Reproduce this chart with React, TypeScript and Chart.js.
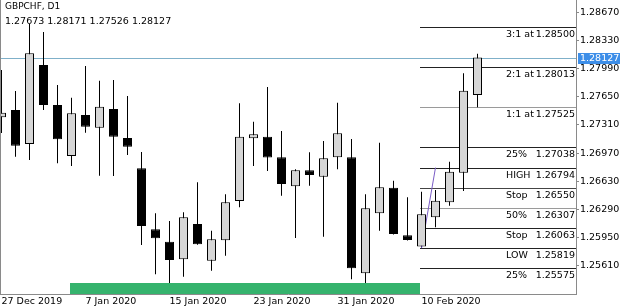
import React, { useEffect, useRef } from 'react';
import { Chart, registerables } from 'chart.js';

Chart.register(...registerables);

const symbolTitle = 'GBPCHF, D1';

const dates = [
  '27 Dec 2019', '30 Dec 2019', '31 Dec 2019', '2 Jan 2020', '3 Jan 2020', '6 Jan 2020', '7 Jan 2020',
  '8 Jan 2020', '9 Jan 2020', '10 Jan 2020', '13 Jan 2020', '14 Jan 2020', '15 Jan 2020', '16 Jan 2020',
  '17 Jan 2020', '20 Jan 2020', '21 Jan 2020', '22 Jan 2020', '23 Jan 2020', '24 Jan 2020', '27 Jan 2020',
  '28 Jan 2020', '29 Jan 2020', '30 Jan 2020', '31 Jan 2020', '3 Feb 2020', '4 Feb 2020', '5 Feb 2020',
  '6 Feb 2020', '7 Feb 2020', '10 Feb 2020', '11 Feb 2020', '12 Feb 2020', '13 Feb 2020', '14 Feb 2020',
];

const opens = [
  1.27403, 1.27491, 1.2708, 1.28036, 1.27552, 1.26934, 1.27431, 1.27277, 1.27503, 1.27152,
  1.26786, 1.26047, 1.25897, 1.25684, 1.26111, 1.25667, 1.25914, 1.2639, 1.27149, 1.27168,
  1.26919, 1.26568, 1.26761, 1.26684, 1.26919, 1.26919, 1.25514, 1.26241, 1.26551, 1.25974,
  1.25839, 1.26192, 1.26374, 1.26732, 1.27673,
];
const highs = [
  1.27976, 1.27721, 1.28532, 1.28436, 1.27794, 1.2764, 1.28024, 1.27846, 1.27855, 1.27661,
  1.26983, 1.26241, 1.26148, 1.26253, 1.26616, 1.2603, 1.26471, 1.27572, 1.2735, 1.2777,
  1.27237, 1.26773, 1.26979, 1.27116, 1.2758, 1.2714, 1.26471, 1.27095, 1.26635, 1.26434,
  1.26502, 1.26523, 1.26865, 1.27936, 1.28171,
];
const lows = [
  1.27213, 1.26926, 1.26886, 1.27491, 1.26846, 1.26813, 1.27217, 1.26696, 1.26692, 1.26947,
  1.25857, 1.25502, 1.2538, 1.25473, 1.2586, 1.25546, 1.25727, 1.26313, 1.26813, 1.26753,
  1.26454, 1.25942, 1.26575, 1.25957, 1.26773, 1.25442, 1.25397, 1.2603, 1.25985, 1.25912,
  1.25819, 1.26071, 1.26333, 1.26511, 1.27526,
];
const closes = [
  1.27459, 1.27059, 1.28178, 1.27552, 1.27137, 1.27451, 1.27289, 1.27531, 1.27168, 1.27047,
  1.26087, 1.25938, 1.25675, 1.26192, 1.25865, 1.25926, 1.26374, 1.27168, 1.27197, 1.26916,
  1.26595, 1.26761, 1.26704, 1.26907, 1.27209, 1.25575, 1.26301, 1.26556, 1.2599, 1.25917,
  1.26229, 1.26393, 1.26744, 1.27725, 1.28127,
];

const dateTickIndices = [0, 6, 12, 18, 24, 30];
const priceTicks = [1.2867, 1.2833, 1.2799, 1.2765, 1.2731, 1.2697, 1.2663, 1.2629, 1.2595, 1.2561];

const levelNames = ['3:1 at', '2:1 at', '1:1 at', '25%', 'HIGH', 'Stop', '50%', 'Stop', 'LOW', '25%'];
const levelPrices = [1.285, 1.28013, 1.27525, 1.27038, 1.26794, 1.2655, 1.26307, 1.26063, 1.25819, 1.25575];
const levelColors = ['#222', '#222', '#9a9a9a', '#222', '#222', '#444', '#9a9a9a', '#222', '#222', '#222'];
const levelStartIndex = 30;

const zoneStartIndex = 5;
const zoneEndIndex = 30;

const swingIndices = [30, 31];
const swingPrices = [1.25819, 1.26794];

const FONT = '"DejaVu Sans", sans-serif';
const bullFill = '#d6d6d6';
const bearFill = '#000000';
const axisGray = '#8a8a8a';

const overlayPlugin = {
  id: 'mt4Overlay',
  beforeDatasetsDraw(chart: any) {
    const { ctx, chartArea: a, scales } = chart;
    const xs = scales.x;
    const ys = scales.y;
    ctx.save();
    ctx.lineWidth = 1;
    const last = closes.length - 1;
    const yc = Math.round(ys.getPixelForValue(closes[last])) + 0.5;
    ctx.strokeStyle = '#7fb0c9';
    ctx.beginPath();
    ctx.moveTo(a.left, yc);
    ctx.lineTo(a.right, yc);
    ctx.stroke();
    const x0 = Math.round(xs.getPixelForValue(levelStartIndex)) - 1;
    levelPrices.forEach((p, i) => {
      const yy = Math.round(ys.getPixelForValue(p)) + 0.5;
      ctx.strokeStyle = levelColors[i];
      ctx.beginPath();
      ctx.moveTo(x0, yy);
      ctx.lineTo(a.right, yy);
      ctx.stroke();
    });
    ctx.restore();
  },
  afterDatasetsDraw(chart: any) {
    const { ctx, chartArea: a, scales } = chart;
    const xs = scales.x;
    const ys = scales.y;
    ctx.save();
    // green zone
    const zx0 = Math.round(xs.getPixelForValue(zoneStartIndex)) - 1;
    const zx1 = Math.round(xs.getPixelForValue(zoneEndIndex)) - 1;
    ctx.fillStyle = '#35b36d';
    ctx.fillRect(zx0, a.bottom - 11, zx1 - zx0, 11);

    // level labels
    ctx.fillStyle = '#000';
    ctx.font = '9.5px ' + FONT;
    ctx.textBaseline = 'middle';
    levelPrices.forEach((p, i) => {
      const yy = Math.round(ys.getPixelForValue(p)) + 0.5;
      ctx.textAlign = 'left';
      ctx.fillText(levelNames[i], a.right - 70, yy + 7);
      ctx.textAlign = 'right';
      ctx.fillText(p.toFixed(5), a.right - 1, yy + 7);
    });

    // left frame
    ctx.strokeStyle = axisGray;
    ctx.lineWidth = 1;
    ctx.beginPath();
    ctx.moveTo(a.left + 0.5, a.top);
    ctx.lineTo(a.left + 0.5, a.bottom);
    ctx.stroke();

    // header
    const last = closes.length - 1;
    ctx.textAlign = 'left';
    ctx.textBaseline = 'alphabetic';
    ctx.fillStyle = '#000';
    ctx.font = '9px ' + FONT;
    ctx.fillText(symbolTitle, 5, 8.5);
    ctx.font = '9.5px ' + FONT;
    ctx.fillText(
      [opens[last], highs[last], lows[last], closes[last]].map((v) => v.toFixed(5)).join(' '),
      5,
      23.5
    );

    // current price tag
    const yc = Math.round(ys.getPixelForValue(closes[last])) + 0.5;
    ctx.fillStyle = '#3d8ee8';
    ctx.fillRect(a.right + 2, yc - 5.5, 42, 11);
    ctx.fillStyle = '#fff';
    ctx.textBaseline = 'middle';
    ctx.fillText(closes[last].toFixed(5), a.right + 4, yc + 0.5);
    ctx.restore();
  },
};

export default function App() {
  const canvasRef = useRef<HTMLCanvasElement | null>(null);

  useEffect(() => {
    document.body.style.margin = '0';
    const canvas = canvasRef.current;
    if (!canvas) return;
    const idx = dates.map((_, i) => i);
    const chart = new Chart(canvas, {
      type: 'bar',
      data: {
        datasets: [
          {
            type: 'bar',
            label: 'bodies',
            data: idx.map((i) => ({ x: i, y: [opens[i], closes[i]] })) as any,
            backgroundColor: idx.map((i) => (closes[i] >= opens[i] ? bullFill : bearFill)),
            borderColor: '#000',
            borderWidth: 1,
            borderSkipped: false,
            barThickness: 9,
            grouped: false,
            inflateAmount: 0,
            order: 0,
          } as any,
          {
            type: 'bar',
            label: 'wicks',
            data: idx.map((i) => ({ x: i, y: [lows[i], highs[i]] })) as any,
            backgroundColor: '#000',
            borderWidth: 0,
            barThickness: 1,
            grouped: false,
            inflateAmount: 0,
            order: 2,
          } as any,
          {
            type: 'line',
            label: 'swing',
            data: swingIndices.map((v, i) => ({ x: v, y: swingPrices[i] })) as any,
            borderColor: '#7a5cc6',
            borderWidth: 1,
            pointRadius: 0,
            order: 1,
          } as any,
        ],
      },
      options: {
        responsive: false,
        animation: false,
        devicePixelRatio: 1,
        layout: { padding: 0 },
        plugins: { legend: { display: false }, tooltip: { enabled: false } },
        events: [],
        scales: {
          x: {
            type: 'linear',
            min: -1.5 / 14,
            max: -1.5 / 14 + 576 / 14,
            offset: false,
            bounds: 'data',
            grid: { display: true, drawOnChartArea: false, drawTicks: false, offset: false },
            border: { display: true, color: axisGray },
            ticks: {
              autoSkip: false,
              maxRotation: 0,
              align: 'start',
              padding: 2,
              color: '#000',
              font: { family: 'DejaVu Sans', size: 9.5 },
              callback: (v: any) => dates[v as number] ?? '',
            },
            afterBuildTicks: (scale: any) => {
              scale.ticks = dateTickIndices.map((v) => ({ value: v }));
            },
            afterFit: (scale: any) => {
              scale.height = 12;
              scale.paddingLeft = 0;
              scale.paddingRight = 0;
            },
          },
          y: {
            type: 'linear',
            position: 'right',
            min: 1.25264,
            max: 1.288232,
            bounds: 'data',
            grid: { display: true, drawOnChartArea: false, drawTicks: true, tickLength: 3, color: axisGray },
            border: { display: true, color: axisGray },
            ticks: {
              padding: 1,
              color: '#000',
              font: { family: 'DejaVu Sans', size: 9.5 },
              callback: (v: any) => Number(v).toFixed(5),
            },
            afterBuildTicks: (scale: any) => {
              scale.ticks = priceTicks.map((v) => ({ value: v }));
            },
            afterFit: (scale: any) => {
              scale.width = 49;
              scale.paddingTop = 0;
              scale.paddingBottom = 0;
            },
          },
        },
      } as any,
      plugins: [overlayPlugin],
    });
    return () => chart.destroy();
  }, []);

  return (
    <div style={{ width: 625, height: 306, background: '#fff' }}>
      <canvas ref={canvasRef} width={625} height={306} style={{ display: 'block' }} />
    </div>
  );
}
